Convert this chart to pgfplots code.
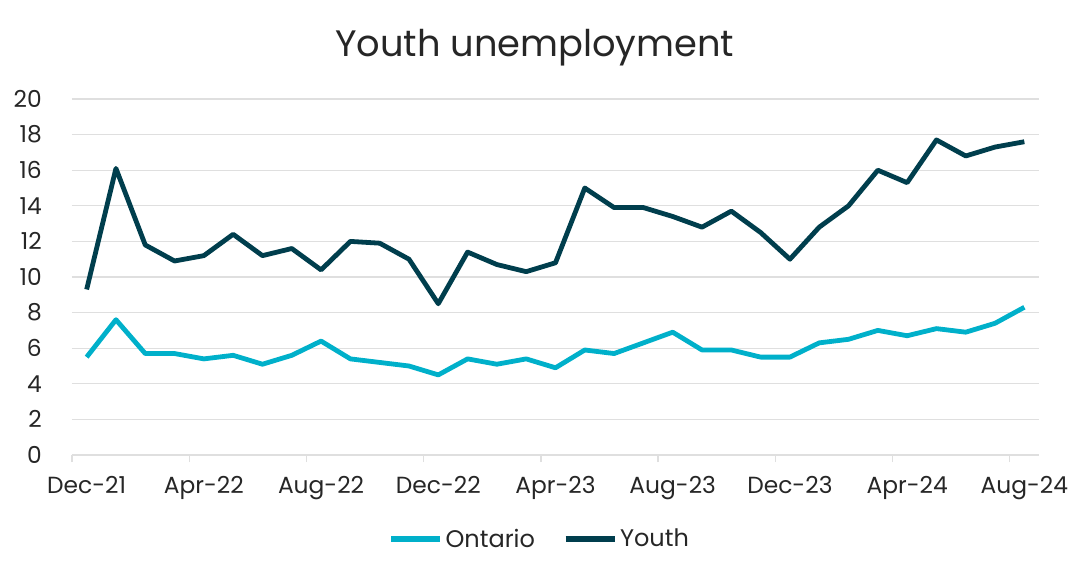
\documentclass[border=0pt]{standalone}
\usepackage{fontspec}
\setmainfont{Poppins}
\usepackage{pgfplots}
\pgfplotsset{compat=1.18}
\definecolor{ont}{HTML}{00B0CA}
\definecolor{youth}{HTML}{003E4D}
\definecolor{gridc}{HTML}{DFDFDF}
\definecolor{txt}{HTML}{262626}
\begin{document}
\begin{tikzpicture}
\useasboundingbox (-54pt,-90.75pt) rectangle (749.25pt,341.25pt);
\begin{axis}[
  at={(0,0)}, anchor=south west,
  scale only axis, width=725.25pt, height=267pt,
  xmin=-0.5, xmax=32.5, ymin=0, ymax=20,
  ytick={0,2,...,20},
  ymajorgrids, grid style={gridc, line width=1pt},
  axis x line*=bottom, axis y line*=left,
  y axis line style={draw=none},
  x axis line style={gridc, line width=1pt, -},
  ytick style={draw=none},
  yticklabel style={anchor=east, inner sep=0pt, xshift=-17pt, text=txt, font=\fontsize{17.5}{20}\selectfont},
  /pgf/number format/assume math mode=true,
  xtick={-0.5,3.5,...,31.5}, xticklabels={},
  tick align=outside, major tick length=5.5pt,
  xtick style={gridc, line width=1pt},
  extra x ticks={0,4,...,32},
  extra x tick labels={Dec-21,Apr-22,Aug-22,Dec-22,Apr-23,Aug-23,Dec-23,Apr-24,Aug-24},
  extra x tick style={major tick length=0pt},
  xticklabel style={anchor=north, inner sep=0pt, yshift=-16pt, text=txt, font=\fontsize{17.5}{20}\selectfont},
  legend style={at={(0.484,-0.236)}, anchor=center, draw=none, fill=none,
    legend columns=2, font=\fontsize{18}{20}\selectfont, text=txt,
    /tikz/every even column/.append style={column sep=19pt}},
  legend image code/.code={\draw[#1, line width=3.8pt] (0pt,0pt) -- (37pt,0pt);},
  line join=round,
]
\addplot[ont, line width=3.6pt] coordinates {
(0,5.5) (1,7.6) (2,5.7) (3,5.7) (4,5.4) (5,5.6) (6,5.1) (7,5.6) (8,6.4) (9,5.4)
(10,5.2) (11,5.0) (12,4.5) (13,5.4) (14,5.1) (15,5.4) (16,4.9) (17,5.9) (18,5.7) (19,6.3)
(20,6.9) (21,5.9) (22,5.9) (23,5.5) (24,5.5) (25,6.3) (26,6.5) (27,7.0) (28,6.7) (29,7.1)
(30,6.9) (31,7.4) (32,8.3)};
\addlegendentry{Ontario}
\addplot[youth, line width=3.6pt] coordinates {
(0,9.3) (1,16.1) (2,11.8) (3,10.9) (4,11.2) (5,12.4) (6,11.2) (7,11.6) (8,10.4) (9,12.0)
(10,11.9) (11,11.0) (12,8.5) (13,11.4) (14,10.7) (15,10.3) (16,10.8) (17,15.0) (18,13.9) (19,13.9)
(20,13.4) (21,12.8) (22,13.7) (23,12.5) (24,11.0) (25,12.8) (26,14.0) (27,16.0) (28,15.3) (29,17.7)
(30,16.8) (31,17.3) (32,17.6)};
\addlegendentry{Youth}
\end{axis}
\node[anchor=base, text=txt, font=\fontsize{27.6}{32}\selectfont] at (347pt,298.5pt) {Youth unemployment};
\end{tikzpicture}
\end{document}
